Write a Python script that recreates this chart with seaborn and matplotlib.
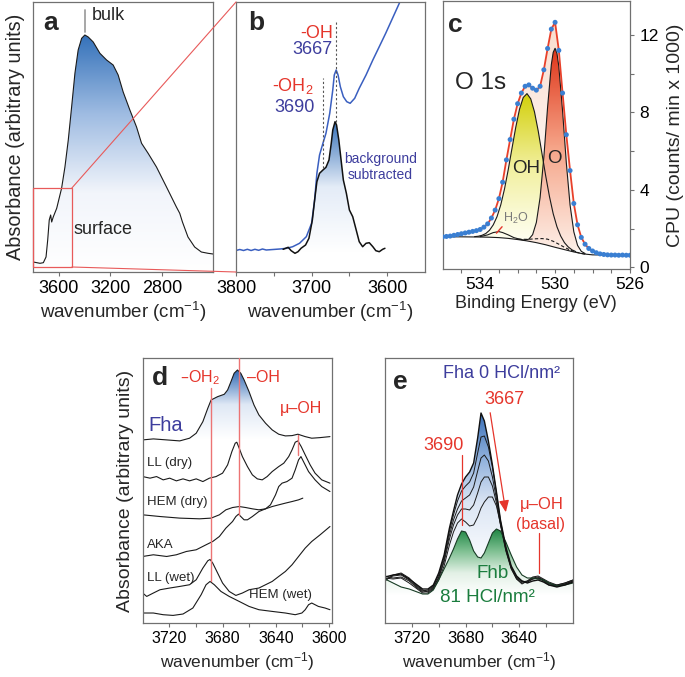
import numpy as np
import matplotlib
matplotlib.use('Agg')
import matplotlib.pyplot as plt
import seaborn as sns
from matplotlib.colors import LinearSegmentedColormap
from matplotlib.patches import ConnectionPatch, Rectangle

# ---------------- data ----------------
# (a) full spectrum, absorbance in arbitrary units
a_wn = [3800, 3748, 3722, 3701, 3688, 3676, 3665, 3657, 3645, 3618, 3580, 3554, 3528, 3502,
        3476, 3451, 3424, 3399, 3373, 3334, 3282, 3230, 3179, 3140, 3101, 3049, 2997, 2958,
        2907, 2842, 2764, 2687, 2661, 2640, 2597, 2545, 2493, 2441, 2402]
a_abs = [10, 8.7, 9.3, 15, 32, 52, 57, 50, 55, 63.7, 83.7, 105, 132, 165,
         199, 222, 233.7, 237, 235, 230, 218.7, 212, 207, 197, 180, 162, 145, 128.7,
         118.7, 105, 85, 65, 58.7, 50, 35, 25, 20, 18.7, 18]

# (b) raw spectrum (blue) and background subtracted (black)
b_raw_wn = [3800, 3795, 3790, 3785, 3780, 3775, 3770, 3765, 3760, 3751, 3742, 3733, 3725,
            3716, 3707, 3700, 3696, 3693, 3689.5, 3685, 3681, 3676, 3672, 3670, 3667.5, 3665,
            3662, 3658, 3653.5, 3649, 3643, 3637, 3628, 3619, 3610.5, 3602, 3593, 3584, 3581]
b_raw = [21.5, 22.5, 21.5, 22.7, 21.5, 22.7, 21.7, 23, 22, 22.5, 23, 23.7, 25.3,
         28.7, 35.3, 48.7, 72, 98.7, 117, 128.7, 138.7, 158.7, 182, 197, 202, 197,
         185.3, 175.3, 170.3, 168.7, 173.7, 183.7, 197, 212, 225.3, 238.7, 253.7, 268.7, 275]
b_sub_wn = [3737.7, 3731, 3727, 3722, 3718, 3714, 3708, 3703.5, 3699, 3696, 3693, 3689.5,
            3685, 3681, 3677, 3674, 3672, 3669, 3667, 3664, 3661, 3658, 3654, 3650, 3645.6,
            3641, 3637, 3632.5, 3628, 3623.7, 3619, 3615, 3610.5, 3606, 3603]
b_sub = [22.7, 24.7, 21.3, 18.7, 20.3, 23.7, 27, 33.7, 52, 72, 90.3, 98.7,
         102, 104.7, 112, 128.7, 142, 150.3, 147, 132, 112, 92, 78.7, 62, 55.3,
         42, 30.3, 25.3, 28.7, 29.3, 25.3, 21.3, 20.3, 22.7, 23.7]

# (c) O 1s XPS, counts/min x 1000
xps_be = [536.0, 535.8, 535.6, 535.4, 535.2, 535.0, 534.8, 534.6, 534.4, 534.2, 534.0, 533.8,
          533.6, 533.4, 533.2, 533.0, 532.8, 532.6, 532.4, 532.2, 532.0, 531.8, 531.6, 531.4,
          531.2, 531.0, 530.8, 530.6, 530.4, 530.2, 530.0, 529.8, 529.6, 529.4, 529.2, 529.0,
          528.8, 528.6, 528.4, 528.2, 528.0, 527.8, 527.6, 527.4, 527.2, 527.0, 526.8, 526.6,
          526.4, 526.2, 526.0]
xps_cps = [1.58, 1.60, 1.62, 1.66, 1.70, 1.74, 1.78, 1.82, 1.86, 1.90, 1.96, 2.08,
           2.25, 2.55, 2.96, 3.55, 4.40, 5.55, 6.60, 7.65, 8.45, 9.00, 9.35, 9.42,
           9.25, 9.15, 9.35, 10.20, 11.30, 12.30, 12.65, 11.20, 9.00, 6.85, 5.00, 3.30,
           2.20, 1.55, 1.20, 0.98, 0.85, 0.76, 0.70, 0.67, 0.65, 0.64, 0.64, 0.63,
           0.64, 0.63, 0.63]
bg_be = [536, 535, 534, 533.5, 533, 532.5, 532, 531.5, 531, 530.5, 530, 529.5, 529, 528.5, 528, 527, 526]
bg_cps = [1.58, 1.58, 1.57, 1.56, 1.54, 1.50, 1.44, 1.37, 1.28, 1.17, 1.04, 0.92, 0.80, 0.70, 0.65, 0.64, 0.63]
oh_be = [534.3, 534.1, 533.9, 533.7, 533.5, 533.3, 533.1, 532.9, 532.7, 532.5, 532.3, 532.1,
         531.9, 531.7, 531.5, 531.3, 531.1, 530.9, 530.7, 530.5, 530.3, 530.1, 529.9, 529.7,
         529.5, 529.3, 529.1, 528.9]
oh_cps = [1.59, 1.61, 1.66, 1.75, 1.92, 2.20, 2.62, 3.23, 4.05, 5.05, 6.15, 7.23,
          8.16, 8.77, 8.97, 8.70, 8.03, 7.04, 5.88, 4.72, 3.66, 2.77, 2.10, 1.62,
          1.28, 1.06, 0.91, 0.82]
o_be = [531.6, 531.4, 531.2, 531.0, 530.8, 530.6, 530.4, 530.2, 530.1, 530.0, 529.9, 529.8,
        529.6, 529.4, 529.2, 529.0, 528.8, 528.6, 528.4]
o_cps = [1.42, 1.46, 1.69, 2.32, 3.61, 5.69, 8.27, 10.47, 11.10, 11.31, 11.05, 10.37,
         8.07, 5.40, 3.22, 1.84, 1.14, 0.83, 0.72]
h2o_be = [534.0, 533.6, 533.3, 533.0, 532.8, 532.5, 532.2, 531.9, 531.6]
h2o_cps = [1.59, 1.68, 1.80, 1.85, 1.80, 1.68, 1.54, 1.46, 1.40]
x_be = [532.0, 531.5, 531.0, 530.7, 530.4, 530.1, 529.8, 529.5, 529.2, 528.8, 528.4]
x_cps = [1.46, 1.45, 1.48, 1.49, 1.46, 1.35, 1.20, 1.04, 0.90, 0.77, 0.69]

# (d) stacked reference spectra
d_fha_wn = [3740, 3732, 3722, 3712.2, 3704.8, 3699.8, 3694.8, 3691.1, 3688.6, 3683.7, 3678.7,
            3676.2, 3673.7, 3671.3, 3668.8, 3666.3, 3663.8, 3660.1, 3656.4, 3652.7, 3647.7,
            3642.7, 3637.8, 3632.8, 3627.8, 3623.4, 3617.9, 3613, 3606.7, 3599.3]
d_fha = [183.3, 184.3, 183.3, 182.3, 185, 190, 201.6, 215, 223.3, 226.6, 229,
         233.3, 241.6, 250, 253.3, 250, 243.3, 231.6, 218.3, 208.3, 200,
         193.3, 189, 187.3, 187.6, 189, 186.6, 185, 185.6, 186.6]
d_lld_wn = [3740, 3734.5, 3729.6, 3724.6, 3719.7, 3714.7, 3709.7, 3704.8, 3699.8, 3694.8,
            3689.9, 3684.9, 3680, 3676.2, 3673, 3670.5, 3669.3, 3667.5, 3665.1, 3661.3,
            3657.6, 3653.9, 3650.2, 3646.5, 3642.7, 3637.8, 3634, 3630.3, 3627.8, 3625.4,
            3623.4, 3620.9, 3617.9, 3614.2, 3610.5, 3605.5, 3599.3]
d_lld = [146.6, 145, 146.6, 143.3, 145, 142.3, 144.3, 142.3, 144.3, 141.6,
         145, 146.6, 150, 158.3, 171.6, 180, 181, 175, 166.6, 156.6,
         148.3, 144.3, 143.3, 146.6, 151.6, 156.6, 160, 166.6, 173.3, 181,
         182.3, 176.6, 168.3, 158.3, 150, 143.3, 140]
d_hemd_wn = [3740, 3727, 3712.2, 3697.3, 3688.6, 3682.4, 3677.5, 3672.5, 3667.5, 3662.6,
             3657.6, 3652.7, 3647.7, 3644, 3640.2, 3637.8, 3635.3, 3631.6, 3627.8, 3625.4,
             3622.9, 3621.1, 3619.2, 3615.4, 3610.5, 3605.5, 3599.3]
d_hemd = [108.3, 106.6, 105, 104.3, 105, 108.3, 113.3, 115.6, 116.6, 115.6,
          114.3, 113.3, 114.3, 118.3, 128.3, 136.6, 140, 141.6, 145, 153.3,
          163.3, 166.6, 161.6, 151.6, 143.3, 136.6, 131.6]
d_aka_wn = [3740, 3732, 3722, 3714.7, 3707.2, 3699.8, 3692.4, 3687.4, 3682.4, 3677.5, 3672.5,
            3670, 3668, 3666.3, 3663.8, 3661.3, 3657.6, 3652.7, 3647.7, 3642.7, 3637.8,
            3632.8, 3627.8, 3622.9, 3619.7]
d_aka = [66.6, 68.3, 66.6, 68.3, 71.6, 73.3, 78.3, 81.6, 86.6, 95, 101.6,
         106.6, 109, 106.6, 103.3, 103.3, 106.6, 111.6, 114.3, 116.6, 118.3,
         120, 121.6, 123.3, 125]
d_llw_wn = [3740, 3737, 3732, 3727, 3719.7, 3712.2, 3704.8, 3699.8, 3694.8, 3691.1, 3689.4,
            3687.4, 3683.7, 3680, 3675, 3670, 3665.1, 3660.1, 3652.7, 3647.7, 3642.7,
            3637.8, 3632.8, 3627.8, 3622.9, 3617.9, 3613, 3606.7, 3599.3]
d_llw = [30, 26.6, 30, 33.3, 35, 36.6, 38.3, 43.3, 55, 62.3, 63.6,
         60, 50, 40, 31.6, 27.6, 30, 33.3, 35, 38.3, 41.6,
         46.6, 51.6, 58.3, 66.6, 75, 81.6, 88.3, 96.6]
d_hemw_wn = [3740, 3732, 3724.6, 3717.2, 3709.7, 3702.3, 3696.1, 3692.4, 3689.4, 3686.2,
             3681.2, 3675, 3667.5, 3660.1, 3652.7, 3642.7, 3632.8, 3625.4, 3620.4, 3617.9,
             3615.4, 3613, 3608, 3603, 3599.3]
d_hemw = [10, 10, 8.3, 7.6, 9, 15, 28.3, 38.3, 41.6, 38.3,
          31.6, 26.6, 21.6, 16.6, 13.3, 11.6, 10, 8.3, 10, 13.3,
          18.3, 20, 16.6, 15, 13.3]

# (e) HCl titration series, 0 -> 81 HCl/nm2
e_wn = [3740, 3734, 3728, 3722, 3716, 3712, 3708, 3704, 3700, 3696, 3692, 3689, 3686, 3683,
        3680, 3677, 3674, 3671, 3668.5, 3666, 3663, 3660, 3657, 3654, 3650, 3646, 3642, 3638,
        3634, 3630, 3626, 3622, 3618, 3612, 3606, 3600]
e_fha0 = [46, 48, 49, 44, 38, 34, 34, 38, 50, 68, 95, 112, 128, 139, 146, 151, 160, 185, 210,
          202, 182, 158, 131, 103, 76, 57, 47, 42, 40, 42, 43, 41, 38, 36, 38, 41]
e_c1 = [44, 47, 48, 43, 36, 32, 33, 37, 48, 66, 92, 108, 122, 132, 137, 141, 150, 170, 186,
        187, 176, 156, 130, 102, 75, 56, 46, 42, 41, 44, 45, 42, 38, 37, 39, 42]
e_c2 = [42, 48, 50, 45, 37, 33, 31, 35, 46, 63, 88, 103, 114, 122, 125, 128, 136, 152, 165,
        168, 162, 146, 124, 99, 73, 55, 45, 41, 42, 45, 46, 43, 39, 38, 40, 43]
e_c3 = [47, 45, 46, 42, 35, 31, 32, 36, 45, 61, 84, 98, 108, 114, 114, 113, 118, 130, 141,
        146, 146, 137, 120, 98, 72, 54, 44, 40, 41, 44, 45, 43, 40, 37, 39, 42]
e_c4 = [45, 44, 45, 40, 34, 30, 30, 34, 43, 57, 78, 91, 100, 104, 101, 97, 98, 106, 115,
        121, 126, 126, 117, 99, 74, 55, 44, 39, 42, 46, 47, 44, 41, 38, 40, 43]
e_fhb81 = [44, 40, 36, 34, 31, 29, 29, 33, 43, 54, 65, 74, 84, 92, 91, 83, 72, 66, 65,
           70, 80, 90, 94, 92, 81, 68, 56, 48, 45, 45, 44, 43, 40, 37, 38, 40]

RED = '#e5352b'
PURPLE = '#3d3d9d'
GREEN = '#1b7d3e'
PINKLINE = '#ec7474'

sns.set_style('ticks')
plt.rcParams['font.family'] = ['Liberation Sans', 'DejaVu Sans']
plt.rcParams['mathtext.default'] = 'regular'
plt.rcParams['axes.edgecolor'] = '#707070'
plt.rcParams['axes.linewidth'] = 0.9
plt.rcParams['xtick.color'] = '#707070'
plt.rcParams['ytick.color'] = '#707070'
plt.rcParams['xtick.labelcolor'] = 'black'
plt.rcParams['ytick.labelcolor'] = 'black'

fig = plt.figure(figsize=(6.85, 6.77), dpi=100)


def px_axes(l, r, t, b):
    return fig.add_axes([l / 685, 1 - b / 677, (r - l) / 685, (b - t) / 677])


def grad_fill(ax, x, top, bottom, colors, lo, hi):
    # vertical colour gradient (colors listed bottom -> top) clipped to the area between two curves
    poly = ax.fill_between(x, bottom, top, facecolor='none', edgecolor='none')
    cmap = LinearSegmentedColormap.from_list('g', colors)
    im = ax.imshow(np.linspace(0, 1, 256).reshape(-1, 1), cmap=cmap, origin='lower',
                   aspect='auto', extent=[min(x), max(x), lo, hi], zorder=1,
                   interpolation='bilinear')
    im.set_clip_path(poly.get_paths()[0], transform=ax.transData)


def line(ax, x, y, color='#1a1a1a', lw=0.8, **kw):
    sns.lineplot(x=x, y=y, ax=ax, color=color, lw=lw, **kw)


ax_a = px_axes(33.3, 213.3, 2, 272)
ax_b = px_axes(236, 425, 2, 272)
ax_c = px_axes(442.7, 630, 1, 269)
ax_d = px_axes(142.7, 331.7, 358, 623)
ax_e = px_axes(385, 573, 358, 623)

# ---------------- a ----------------
grad_fill(ax_a, a_wn, a_abs, 0, ['#ffffff', '#f2f5fb', '#9fbce2', '#3572ba'], 0, 237)
line(ax_a, a_wn, a_abs)
ax_a.set_xlim(3800, 2400)
ax_a.set_ylim(0, 270)
ax_a.set_xticks([3600, 3200, 2800])
ax_a.set_yticks([])
ax_a.plot([3399, 3399], [240, 262], color='#a0a0a0', lw=1.3)
ax_a.text(3344, 257, 'bulk', fontsize=13, va='center')
ax_a.text(3484, 42, 'surface', fontsize=13, va='center')
ax_a.text(0.054, 0.923, 'a', transform=ax_a.transAxes, fontsize=19, fontweight='bold', va='center')
ax_a.add_patch(Rectangle((3500, 5), 300, 79, fill=False, edgecolor='#e85a5a', lw=0.9, clip_on=False, zorder=5))
for ya, yb in [(84, 1), (5, 0)]:
    con = ConnectionPatch(xyA=(3500, ya), coordsA=ax_a.transData, xyB=(0, yb), coordsB=ax_b.transAxes,
                          color='#e85a5a', lw=0.8)
    fig.add_artist(con)

# ---------------- b ----------------
grad_fill(ax_b, b_sub_wn, b_sub, 20, ['#ffffff', '#e4ecf7', '#3a74bb'], 20, 150)
line(ax_b, b_raw_wn, b_raw, color='#3a5fc0', lw=1.1)
line(ax_b, b_sub_wn, b_sub, color='#111111', lw=1.1)
ax_b.plot([3685, 3685], [104, 194], color='#555555', lw=0.8, ls=(0, (2, 2)))
ax_b.plot([3668, 3668], [150, 252], color='#555555', lw=0.8, ls=(0, (2, 2)))
ax_b.text(3672, 239, '-OH', color=RED, fontsize=13, ha='right', va='center')
ax_b.text(3672, 222, '3667', color=PURPLE, fontsize=13, ha='right', va='center')
ax_b.text(3698, 186, '-OH$_2$', color=RED, fontsize=13, ha='right', va='center')
ax_b.text(3696, 165, '3690', color=PURPLE, fontsize=13, ha='right', va='center')
ax_b.text(3609, 113, 'background', color=PURPLE, fontsize=10, ha='center', va='center')
ax_b.text(3609, 97, 'subtracted', color=PURPLE, fontsize=10, ha='center', va='center')
ax_b.text(0.065, 0.922, 'b', transform=ax_b.transAxes, fontsize=19, fontweight='bold', va='center')
ax_b.set_xlim(3800, 3550)
ax_b.set_ylim(0, 270)
ax_b.set_xticks([3800, 3700, 3600])
ax_b.set_xticks([3750, 3650], minor=True)
ax_b.set_yticks([])

# ---------------- c ----------------
env_bottom = np.interp(xps_be[::-1], bg_be[::-1], bg_cps[::-1])[::-1]
grad_fill(ax_c, xps_be, xps_cps, env_bottom, ['#ffffff', '#fdf1ea', '#fadccd'], 0.6, 12.7)
oh_bottom = np.interp(oh_be[::-1], bg_be[::-1], bg_cps[::-1])[::-1]
grad_fill(ax_c, oh_be, oh_cps, oh_bottom, ['#fffff6', '#f2f0a0', '#d2cf08'], 1.2, 9.0)
o_bottom = np.interp(o_be[::-1], bg_be[::-1], bg_cps[::-1])[::-1]
grad_fill(ax_c, o_be, o_cps, o_bottom, ['#fdeee6', '#f6a68a', '#df3519'], 0.9, 11.3)
line(ax_c, bg_be, bg_cps, lw=0.8)
line(ax_c, oh_be, oh_cps, lw=0.8)
line(ax_c, o_be, o_cps, lw=0.8)
line(ax_c, h2o_be, h2o_cps, lw=0.8)
line(ax_c, x_be, x_cps, lw=0.8, ls=(0, (3, 2)))
line(ax_c, xps_be, xps_cps, color='#e8402a', lw=1.3)
sns.scatterplot(x=xps_be, y=xps_cps, ax=ax_c, color='#3a7fd2', s=13, edgecolor='none', zorder=4)
ax_c.plot([533.13, 532.83], [1.77, 2.1], color=RED, lw=1.0)
ax_c.text(532.79, 2.55, 'H$_2$O', color='#7a7a7a', fontsize=9, va='center')
ax_c.text(535.33, 9.52, 'O 1s', fontsize=17.5, va='center')
ax_c.text(531.56, 5.13, 'OH', fontsize=13.5, ha='center', va='center')
ax_c.text(530.05, 5.6, 'O', fontsize=13.5, ha='center', va='center')
ax_c.text(0.03, 0.91, 'c', transform=ax_c.transAxes, fontsize=19, fontweight='bold', va='center')
ax_c.set_xlim(536, 526)
ax_c.set_ylim(-0.08, 13.75)
ax_c.set_xticks([534, 530, 526])
ax_c.set_xticks([535, 533, 532, 531, 529, 528, 527], minor=True)
ax_c.yaxis.tick_right()
ax_c.yaxis.set_label_position('right')
ax_c.set_yticks([0, 4, 8, 12])
ax_c.set_yticks([2, 6, 10], minor=True)
ax_c.set_xlabel('Binding Energy (eV)', fontsize=13, labelpad=2)
ax_c.set_ylabel('CPU (counts/ min x 1000)', fontsize=14, labelpad=6)

# ---------------- d ----------------
grad_fill(ax_d, d_fha_wn, np.maximum(d_fha, 184), 184, ['#ffffff', '#dfe8f5', '#2f6ab4'], 184, 253)
for xs, ys in [(d_fha_wn, d_fha), (d_lld_wn, d_lld), (d_hemd_wn, d_hemd),
               (d_aka_wn, d_aka), (d_llw_wn, d_llw), (d_hemw_wn, d_hemw)]:
    line(ax_d, xs, ys, lw=0.8)
ax_d.plot([3689, 3689], [41.6, 235], color=PINKLINE, lw=1.0, zorder=3)
ax_d.plot([3668, 3668], [108, 265.3], color=PINKLINE, lw=1.0, zorder=3)
ax_d.plot([3623, 3623], [168, 188], color=PINKLINE, lw=1.0, zorder=3)
ax_d.text(3697, 246, '–OH$_2$', color=RED, fontsize=11.5, ha='center', va='center')
ax_d.text(3649, 246, '–OH', color=RED, fontsize=11.5, ha='center', va='center')
ax_d.text(3621.4, 215, 'μ–OH', color=RED, fontsize=11.5, ha='center', va='center')
ax_d.text(3736, 198, 'Fha', color=PURPLE, fontsize=14.5, va='center')
for lab, yy in [('LL (dry)', 160), ('HEM (dry)', 121), ('AKA', 78), ('LL (wet)', 45)]:
    ax_d.text(3737, yy, lab, fontsize=9.5, va='center')
ax_d.text(3660, 28, 'HEM (wet)', fontsize=9.5, va='center')
ax_d.text(0.05, 0.925, 'd', transform=ax_d.transAxes, fontsize=19, fontweight='bold', va='center')
ax_d.set_xlim(3740, 3598)
ax_d.set_ylim(0, 265.3)
ax_d.set_xticks([3720, 3680, 3640, 3600])
ax_d.set_xticks([3700, 3660, 3620], minor=True)
ax_d.set_yticks([])
ax_d.set_ylabel('Absorbance (arbitrary units)', fontsize=14, labelpad=6)

# ---------------- e ----------------
grad_fill(ax_e, e_wn, e_fha0, 30, ['#ffffff', '#f4f7fc', '#dce6f4', '#8fb0dc', '#3a70b8'], 30, 210)
grad_fill(ax_e, e_wn, e_fhb81, 28, ['#ffffff', '#e3f1e6', '#7fc092', '#1f8644'], 28, 94)
for ys in [e_c1, e_c2, e_c3, e_c4]:
    line(ax_e, e_wn, ys, lw=0.7)
line(ax_e, e_wn, e_fhb81, color='#173b24', lw=0.8)
line(ax_e, e_wn, e_fha0, color='#111111', lw=1.0)
ax_e.plot([3682.5, 3682.5], [98, 168], color=RED, lw=0.9)
ax_e.plot([3625, 3625], [50, 90], color=RED, lw=0.9)
ax_e.annotate('', xy=(3649.7, 108), xytext=(3662, 213),
              arrowprops=dict(arrowstyle='-|>,head_length=0.7,head_width=0.3', color=RED, lw=0.9))
ax_e.text(3653, 250, 'Fha 0 HCl/nm²', color=PURPLE, fontsize=13, ha='center', va='center')
ax_e.text(3651, 223, '3667', color=RED, fontsize=13, ha='center', va='center')
ax_e.text(3696.6, 178, '3690', color=RED, fontsize=13, ha='center', va='center')
ax_e.text(3623, 118, 'μ–OH', color=RED, fontsize=12, ha='center', va='center')
ax_e.text(3624, 98, '(basal)', color=RED, fontsize=11.5, ha='center', va='center')
ax_e.text(3659.5, 50, 'Fhb', color=GREEN, fontsize=13.5, ha='center', va='center')
ax_e.text(3663.5, 25, '81 HCl/nm²', color=GREEN, fontsize=13.5, ha='center', va='center')
ax_e.text(0.043, 0.91, 'e', transform=ax_e.transAxes, fontsize=19, fontweight='bold', va='center')
ax_e.set_xlim(3740, 3600)
ax_e.set_ylim(0, 265)
ax_e.set_xticks([3720, 3680, 3640])
ax_e.set_xticks([3700, 3660, 3620], minor=True)
ax_e.set_yticks([])

# shared axis styling
for ax, fs in [(ax_a, 13), (ax_b, 13), (ax_c, 12.5), (ax_d, 11.5), (ax_e, 12)]:
    ax.tick_params(which='both', direction='out', length=3, width=0.8, labelsize=fs, pad=3)
    ax.tick_params(which='minor', length=3)
    for s in ax.spines.values():
        s.set_visible(True)
ax_c.tick_params(axis='y', which='both', pad=4)

for ax in [ax_a, ax_b]:
    ax.set_xlabel('wavenumber (cm$^{-1}$)', fontsize=13.5, labelpad=2)
for ax in [ax_d, ax_e]:
    ax.set_xlabel('wavenumber (cm$^{-1}$)', fontsize=12.5, labelpad=3)
ax_a.set_ylabel('Absorbance (arbitrary units)', fontsize=14.3, labelpad=6)

fig.savefig('out.png', dpi=100)
